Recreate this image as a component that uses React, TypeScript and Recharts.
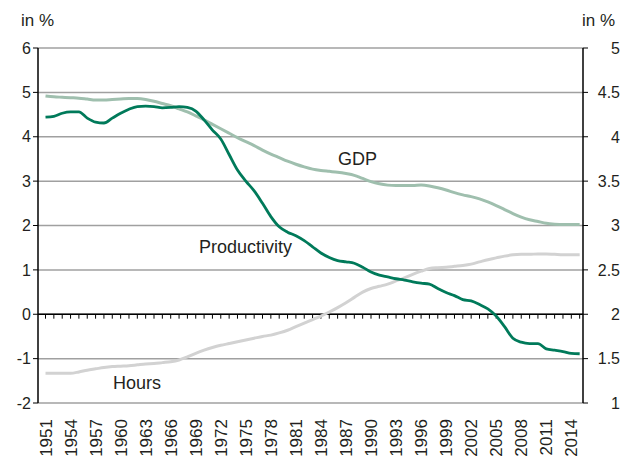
import React from "react";
import {
  LineChart,
  Line,
  XAxis,
  YAxis,
  CartesianGrid,
  ReferenceLine,
} from "recharts";

const years = Array.from({ length: 65 }, (_, i) => 1951 + i);

const productivity = [
  4.44, 4.46, 4.53, 4.56, 4.56, 4.42, 4.33, 4.31, 4.42, 4.53,
  4.62, 4.68, 4.69, 4.68, 4.65, 4.66, 4.68, 4.66, 4.58, 4.38,
  4.15, 3.95, 3.6, 3.25, 3.0, 2.78, 2.5, 2.2, 1.97, 1.85,
  1.77, 1.66, 1.52, 1.38, 1.28, 1.21, 1.18, 1.15, 1.06, 0.95,
  0.88, 0.84, 0.8, 0.77, 0.73, 0.7, 0.68, 0.58, 0.49, 0.42,
  0.33, 0.3, 0.22, 0.12, -0.04, -0.28, -0.54, -0.63, -0.66, -0.66,
  -0.78, -0.81, -0.84, -0.88, -0.89,
];

const gdp = [
  4.92, 4.9, 4.89, 4.88, 4.87, 4.85, 4.83, 4.83, 4.84, 4.85,
  4.86, 4.86, 4.84, 4.8, 4.75, 4.7, 4.63, 4.56, 4.47, 4.38,
  4.28, 4.18, 4.08, 3.98, 3.89, 3.8, 3.7, 3.61, 3.53, 3.45,
  3.38, 3.32, 3.27, 3.24, 3.22, 3.2, 3.17, 3.13, 3.06, 2.99,
  2.94, 2.91, 2.9, 2.9, 2.9, 2.91, 2.89, 2.85, 2.8, 2.74,
  2.69, 2.65, 2.6, 2.53, 2.45, 2.36, 2.27, 2.19, 2.13, 2.09,
  2.05, 2.03, 2.02, 2.02, 2.02,
];

const hours = [
  -1.33, -1.33, -1.33, -1.33, -1.3, -1.26, -1.23, -1.2, -1.18, -1.17,
  -1.16, -1.14, -1.12, -1.11, -1.09, -1.07, -1.03, -0.96, -0.88, -0.81,
  -0.75, -0.7, -0.66, -0.62, -0.58, -0.54, -0.5, -0.47, -0.42, -0.36,
  -0.28, -0.2, -0.12, -0.04, 0.05, 0.15, 0.26, 0.38, 0.5, 0.58,
  0.63, 0.68, 0.75, 0.82, 0.9, 0.97, 1.03, 1.05, 1.06, 1.08,
  1.1, 1.13, 1.18, 1.23, 1.27, 1.31, 1.34, 1.35, 1.35, 1.36,
  1.36, 1.35, 1.34, 1.34, 1.34,
];

const yearTicks = years.filter((y) => (y - 1951) % 3 === 0);
const leftTicks = [-2, -1, 0, 1, 2, 3, 4, 5, 6];
const rightTicks = [1, 1.5, 2, 2.5, 3, 3.5, 4, 4.5, 5];

const data = years.map((year, i) => ({
  year,
  productivity: productivity[i],
  gdp: gdp[i],
  hours: hours[i],
}));

const FONT = "'Liberation Sans', Arial, Helvetica, sans-serif";
const TEXT = "#231f20";

const YearTick = (props: any) => {
  const { x, y, payload } = props;
  return (
    <text
      x={x}
      y={y}
      transform={`rotate(-90, ${x}, ${y})`}
      textAnchor="end"
      dy="0.36em"
      fontSize={17}
      fontFamily={FONT}
      fill={TEXT}
    >
      {payload.value}
    </text>
  );
};

const RightTick = (props: any) => {
  const { x, y, payload } = props;
  return (
    <text
      x={x + 30}
      y={y}
      textAnchor="end"
      dy="0.36em"
      fontSize={16}
      fontFamily={FONT}
      fill={TEXT}
    >
      {String(payload.value)}
    </text>
  );
};

const labelStyle: React.CSSProperties = {
  position: "absolute",
  fontFamily: FONT,
  color: TEXT,
  whiteSpace: "nowrap",
  lineHeight: 1,
};

export default function App() {
  return (
    <div
      style={{
        position: "absolute",
        left: 0,
        top: 0,
        width: 634,
        height: 456,
        background: "#fff",
      }}
    >
      <LineChart
        width={634}
        height={456}
        data={data}
        margin={{ top: 48, right: 0, bottom: 0, left: 0 }}
      >
        <CartesianGrid
          vertical={false}
          stroke="#a0a0a0"
          strokeWidth={1.5}
          yAxisId="left"
        />
        <XAxis
          dataKey="year"
          type="number"
          domain={[1950.1, 2015.4]}
          ticks={yearTicks}
          interval={0}
          tick={<YearTick />}
          tickLine={false}
          axisLine={false}
          height={53}
          tickMargin={10}
        />
        <YAxis
          yAxisId="left"
          domain={[-2, 6]}
          ticks={leftTicks}
          width={38}
          tickSize={5}
          tick={{ fontSize: 16, fontFamily: FONT, fill: TEXT }}
          stroke="#000"
          axisLine={{ stroke: "#000", strokeWidth: 1.5 }}
          tickLine={{ stroke: "#000" }}
        />
        <YAxis
          yAxisId="right"
          orientation="right"
          type="number"
          domain={[1, 5]}
          ticks={rightTicks}
          width={51}
          tickSize={5}
          tick={<RightTick />}
          axisLine={{ stroke: "#000", strokeWidth: 1.5 }}
          tickLine={{ stroke: "#000" }}
        />
        <ReferenceLine
          yAxisId="left"
          y={0}
          stroke="#000"
          strokeWidth={1.5}
        />
        {years.map((yr) => (
          <ReferenceLine
            key={yr}
            yAxisId="left"
            segment={[
              { x: yr, y: 0 },
              { x: yr, y: -0.1 },
            ]}
            stroke="#000"
            strokeWidth={1}
          />
        ))}
        {/* invisible series so the right-hand axis gets drawn */}
        <Line
          yAxisId="right"
          dataKey="gdp"
          stroke="none"
          dot={false}
          activeDot={false}
          legendType="none"
          isAnimationActive={false}
        />
        <Line
          yAxisId="left"
          type="monotone"
          dataKey="hours"
          stroke="#d2d2d2"
          strokeWidth={3}
          dot={false}
          isAnimationActive={false}
        />
        <Line
          yAxisId="left"
          type="monotone"
          dataKey="gdp"
          stroke="#9fbfae"
          strokeWidth={3}
          dot={false}
          isAnimationActive={false}
        />
        <Line
          yAxisId="left"
          type="monotone"
          dataKey="productivity"
          stroke="#007a5a"
          strokeWidth={2.8}
          dot={false}
          isAnimationActive={false}
        />
      </LineChart>
      <div style={{ ...labelStyle, left: 21, top: 12, fontSize: 17 }}>in %</div>
      <div style={{ ...labelStyle, left: 582, top: 12, fontSize: 17 }}>in %</div>
      <div style={{ ...labelStyle, left: 338, top: 150, fontSize: 18 }}>GDP</div>
      <div style={{ ...labelStyle, left: 199, top: 238, fontSize: 18 }}>
        Productivity
      </div>
      <div style={{ ...labelStyle, left: 113, top: 374, fontSize: 18 }}>Hours</div>
    </div>
  );
}
